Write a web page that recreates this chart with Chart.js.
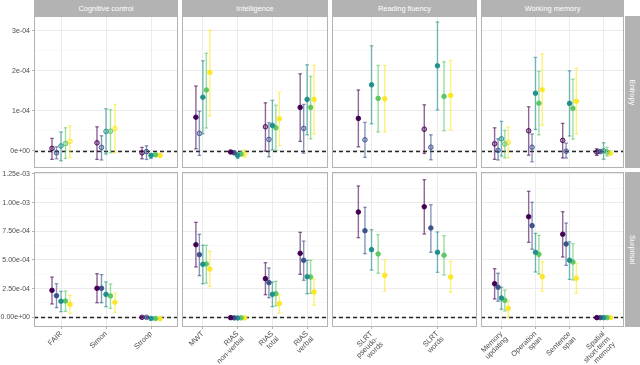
<!DOCTYPE html>
<html><head><meta charset="utf-8">
<script src="https://cdn.jsdelivr.net/npm/chart.js@4.4.0/dist/chart.umd.min.js"></script>
<style>
html,body{margin:0;padding:0;background:#fff;width:640px;height:365px;overflow:hidden;position:relative;}
.box{position:absolute;}
.box canvas{display:block;}
.strip{position:absolute;background:#B3B3B3;color:#fff;font-family:"Liberation Sans",Arial,Helvetica,sans-serif;font-size:7.4px;display:flex;align-items:center;justify-content:center;white-space:nowrap;}
.vstrip span{display:block;transform:rotate(90deg);white-space:nowrap;}
</style></head><body>
<script>
// ---------- data (values in units of 1e-4) ----------
const series = ['Model 1','Model 2','Model 3','Model 4','Model 5'];
const facets = ['Cognitive control','Intelligence','Reading fluency','Working memory'];
const measures = ['Entropy','Surprisal'];

const ccLabels = [['FAIR'],['Simon'],['Stroop']];
const intLabels = [['MWT'],['RIAS','non-verbal'],['RIAS','total'],['RIAS','verbal']];
const rfLabels = [['SLRT','pseudo-','words'],['SLRT','words']];
const wmLabels = [['Memory','updating'],['Operation','span'],['Sentence','span'],['Spatial','short-term','memory']];

// Entropy
const ccEntEst = [[0.06,0.20,-0.05],[-0.05,0.085,-0.02],[0.12,0.485,-0.115],[0.18,0.49,-0.10],[0.235,0.56,-0.115]];
const ccEntLo  = [[-0.215,-0.215,-0.20],[-0.20,-0.23,-0.215],[-0.25,-0.08,-0.19],[-0.19,-0.05,-0.14],[-0.165,-0.05,-0.16]];
const ccEntHi  = [[0.31,0.60,0.085],[0.10,0.375,0.125],[0.47,1.05,-0.07],[0.575,1.025,-0.06],[0.625,1.16,-0.07]];

const intEntEst = [[0.84,-0.03,0.60,1.085],[0.435,-0.05,0.285,0.56],[1.34,-0.115,0.635,1.285],[1.52,-0.08,0.575,1.085],[1.96,-0.08,0.80,1.285]];
const intEntLo  = [[0.05,-0.06,-0.01,0.235],[-0.115,-0.08,-0.15,-0.06],[0.425,-0.19,0.02,0.40],[0.57,-0.12,0.01,0.30],[0.875,-0.16,0.125,0.42]];
const intEntHi  = [[1.62,-0.01,1.20,1.925],[0.99,-0.02,0.70,1.16],[2.25,-0.05,1.26,2.15],[2.44,-0.04,1.14,1.86],[3.02,0.02,1.46,2.135]];

const rfEntEst = [[0.81,0.54],[0.275,0.09],[1.65,2.125],[1.31,1.36],[1.30,1.385]];
const rfEntLo  = [[0.10,-0.065],[-0.165,-0.225],[0.675,1.02],[0.47,0.50],[0.47,0.52]];
const rfEntHi  = [[1.52,1.15],[0.71,0.40],[2.625,3.22],[2.135,2.225],[2.13,2.26]];

const wmEntEst = [[0.175,0.50,0.26,-0.03],[0.01,0.09,-0.01,-0.02],[0.30,1.44,1.185,0.0],[0.17,1.19,1.06,-0.03],[0.21,1.525,1.24,-0.06]];
const wmEntLo  = [[-0.215,-0.11,-0.18,-0.115],[-0.23,-0.275,-0.18,-0.05],[-0.13,0.535,0.37,-0.21],[-0.175,0.40,0.29,-0.13],[-0.175,0.635,0.42,-0.10]];
const wmEntHi  = [[0.575,1.10,0.685,0.05],[0.30,0.42,0.19,0.02],[0.735,2.335,2.0,0.20],[0.51,1.985,1.79,0.09],[0.60,2.42,2.06,-0.01]];

// Surprisal
const ccSurEst = [[2.35,2.53,0.0],[1.88,2.53,0.0],[1.40,2.00,-0.10],[1.42,1.86,-0.10],[1.13,1.31,-0.12]];
const ccSurLo  = [[1.16,1.27,-0.06],[0.84,1.27,-0.08],[0.49,0.93,-0.16],[0.52,0.78,-0.15],[0.35,0.43,-0.17]];
const ccSurHi  = [[3.51,3.80,0.06],[2.93,3.72,0.08],[2.27,3.08,-0.04],[2.29,2.90,-0.05],[1.92,2.12,-0.07]];

const intSurEst = [[6.33,-0.03,3.37,5.58],[5.46,-0.05,3.02,4.97],[4.62,-0.06,2.00,3.54],[4.65,-0.05,2.06,3.51],[4.21,-0.05,1.19,2.21]];
const intSurLo  = [[4.39,-0.08,1.97,3.75],[3.63,-0.10,1.71,3.23],[2.93,-0.11,0.93,2.06],[2.99,-0.10,0.99,2.09],[2.70,-0.10,0.38,1.05]];
const intSurHi  = [[8.28,0.0,4.76,7.41],[7.24,0.0,4.30,6.65],[6.28,-0.01,3.08,4.97],[6.28,0.0,3.14,4.97],[5.76,0.0,1.97,3.34]];

const rfSurEst = [[9.18,9.64],[7.55,7.79],[5.90,5.67],[5.52,5.41],[3.66,3.51]];
const rfSurLo  = [[6.94,7.26],[5.55,5.67],[4.12,3.92],[3.84,3.69],[2.29,2.18]];
const rfSurHi  = [[11.45,12.0],[9.59,9.82],[7.64,7.44],[7.20,7.12],[5.02,4.88]];

const wmSurEst = [[2.93,8.77,7.24,-0.03],[2.62,7.99,6.39,-0.03],[1.68,5.67,4.97,-0.03],[1.48,5.49,4.82,-0.03],[0.78,3.54,3.40,-0.03]];
const wmSurLo  = [[1.60,6.54,5.26,-0.06],[1.40,5.93,4.53,-0.06],[0.70,3.95,3.31,-0.06],[0.55,3.78,3.25,-0.06],[0.05,2.27,2.09,-0.06]];
const wmSurHi  = [[4.24,10.99,9.21,0.0],[3.84,10.03,8.22,0.0],[2.62,7.32,6.59,0.0],[2.38,7.15,6.42,0.0],[1.42,4.85,4.71,0.0]];

// y-axis ticks (units of 1e-4) and their labels
const entropyTicks = [0,1,2,3];
const entropyTickLabels = ['0e+00','1e-04','2e-04','3e-04'];
const surprisalTicks = [0,2.5,5,7.5,10,12.5];
const surprisalTickLabels = ['0.00e+00','2.50e-04','5.00e-04','7.50e-04','1.00e-03','1.25e-03'];
const refLine = 0;

// ---------- styling / layout ----------
const COLORS = ['#440154','#3B528B','#21908C','#5DC863','#FDE725'];
const DODGE = [-0.2,-0.1,0,0.1,0.2];
const FONT = '"Liberation Sans", Arial, Helvetica, sans-serif';
const G = {colL:[34,182,332,481], colR:[178,328,477,624], rowT:[16,172], rowB:[168,327], H:365, stripH:16, rStripX:625, rStripW:15, bottomExtra:6};
const Y_RANGE = [{min:-0.43,max:3.37},{min:-0.846,max:12.67}];

function rgba(hex,a){const n=parseInt(hex.slice(1),16);return 'rgba('+((n>>16)&255)+','+((n>>8)&255)+','+(n&255)+','+a+')';}
function noPad(s){s.paddingTop=0;s.paddingBottom=0;s.paddingLeft=0;s.paddingRight=0;}

const panelPlugin = {
  id:'panelDeco',
  beforeDatasetsDraw(chart){
    const {ctx,chartArea:a,scales:{y}} = chart;
    const yy = Math.round(y.getPixelForValue(refLine))+0.5;
    ctx.save();
    ctx.setLineDash([4,3]);
    ctx.strokeStyle='#262626'; ctx.lineWidth=1.3;
    ctx.beginPath(); ctx.moveTo(a.left,yy); ctx.lineTo(a.right,yy); ctx.stroke();
    ctx.restore();
  },
  afterDraw(chart){
    const {ctx,chartArea:a} = chart;
    ctx.save(); ctx.strokeStyle='#B3B3B3'; ctx.lineWidth=1;
    ctx.strokeRect(a.left+0.5,a.top+0.5,a.right-a.left-1,a.bottom-a.top-1);
    ctx.restore();
  }
};

function buildPanel(col,row,labels,est,lo,hi){
  const left = col===0?0:G.colL[col];
  const extraTop = row===1 ? G.bottomExtra : 0;
  const top = G.rowT[row]-extraTop;
  const width = G.colR[col]-left;
  const height = (row===1?G.H:G.rowB[0]) - top;
  const div = document.createElement('div'); div.className='box';
  div.style.left=left+'px'; div.style.top=top+'px'; div.style.width=width+'px'; div.style.height=height+'px';
  const cv = document.createElement('canvas'); cv.width=width; cv.height=height;
  cv.style.width=width+'px'; cv.style.height=height+'px';
  div.appendChild(cv); document.body.appendChild(div);

  const majors = row===0?entropyTicks:surprisalTicks;
  const majLabels = row===0?entropyTickLabels:surprisalTickLabels;
  const allTicks = [];
  for(let i=0;i<majors.length;i++){ allTicks.push(majors[i]); if(i<majors.length-1) allTicks.push((majors[i]+majors[i+1])/2); }
  const rng = Y_RANGE[row];
  const isMajor = v => majors.some(m=>Math.abs(m-v)<1e-9);

  const n = labels.length;
  const datasets = [];
  for(let m=0;m<series.length;m++){
    const bar=[], pts=[];
    for(let c=0;c<n;c++){
      const x = c+1+DODGE[m];
      bar.push({x:x,y:lo[m][c]},{x:x,y:hi[m][c]},{x:x,y:null});
      pts.push({x:x,y:est[m][c],lo:lo[m][c],hi:hi[m][c]});
    }
    datasets.push({type:'line',label:series[m]+' CI',data:bar,showLine:true,spanGaps:false,
      borderColor:rgba(COLORS[m],0.6),borderWidth:1.4,pointStyle:'line',pointRadius:1.8,pointHoverRadius:1.8,
      pointBorderColor:rgba(COLORS[m],0.6),pointBorderWidth:1.3,pointBackgroundColor:'transparent',order:2});
    datasets.push({type:'scatter',label:series[m],data:pts,showLine:false,pointRadius:2.3,pointBorderWidth:0.9,
      pointBorderColor:COLORS[m],
      pointBackgroundColor:(ctx)=>{const r=ctx.raw; return (r && r.lo<0 && r.hi>0)?rgba(COLORS[m],0.35):COLORS[m];},
      order:1});
  }

  new Chart(cv,{
    type:'scatter',
    data:{datasets},
    plugins:[panelPlugin],
    options:{
      responsive:false, animation:false, devicePixelRatio:1,
      layout:{padding:{top:extraTop,left:0,right:0,bottom:0}, autoPadding:false},
      plugins:{legend:{display:false},tooltip:{enabled:false},title:{display:false}},
      events:[],
      scales:{
        x:{type:'linear',min:0.4,max:n+0.6,bounds:'data',
          afterBuildTicks:(s)=>{s.ticks = labels.map((_,i)=>({value:i+1}));},
          afterFit:(s)=>{s.height = row===1 ? G.H-G.rowB[1] : 0; noPad(s);},
          grid:{color:'#EBEBEB',lineWidth:1,drawTicks:row===1,tickLength:2,tickColor:'#B3B3B3'},
          border:{display:false},
          ticks:{display:row===1,autoSkip:false,maxRotation:45,minRotation:45,padding:1,color:'#4D4D4D',
            font:{family:FONT,size:7.4,lineHeight:1.0},callback:(v,i)=>labels[i]}
        },
        y:{type:'linear',min:rng.min,max:rng.max,bounds:'data',
          afterBuildTicks:(s)=>{s.ticks = allTicks.map(v=>({value:v}));},
          afterFit:(s)=>{s.width = col===0 ? G.colL[0] : 0; noPad(s);},
          grid:{color:(c)=>isMajor(c.tick.value)?'#EBEBEB':'#F5F5F5',
                lineWidth:(c)=>isMajor(c.tick.value)?1:0.7,
                drawTicks:col===0,tickLength:2,
                tickColor:(c)=>isMajor(c.tick.value)?'#B3B3B3':'rgba(0,0,0,0)'},
          border:{display:false},
          ticks:{display:col===0,padding:2,color:'#4D4D4D',font:{family:FONT,size:7},
            callback:(v)=>{const i=majors.findIndex(m=>Math.abs(m-v)<1e-9); return i>=0?majLabels[i]:'';}}
        }
      }
    }
  });
}

function addStrip(text,left,top,w,h,vertical){
  const d=document.createElement('div'); d.className='strip'+(vertical?' vstrip':'');
  d.style.left=left+'px'; d.style.top=top+'px'; d.style.width=w+'px'; d.style.height=h+'px';
  const s=document.createElement('span'); s.textContent=text; d.appendChild(s);
  document.body.appendChild(d);
}

const panels = [
  [ccLabels,  [ccEntEst,ccEntLo,ccEntHi],   [ccSurEst,ccSurLo,ccSurHi]],
  [intLabels, [intEntEst,intEntLo,intEntHi],[intSurEst,intSurLo,intSurHi]],
  [rfLabels,  [rfEntEst,rfEntLo,rfEntHi],   [rfSurEst,rfSurLo,rfSurHi]],
  [wmLabels,  [wmEntEst,wmEntLo,wmEntHi],   [wmSurEst,wmSurLo,wmSurHi]]
];

panels.forEach((p,c)=>{
  buildPanel(c,0,p[0],p[1][0],p[1][1],p[1][2]);
  buildPanel(c,1,p[0],p[2][0],p[2][1],p[2][2]);
  addStrip(facets[c],G.colL[c],0,G.colR[c]-G.colL[c],G.stripH,false);
});
measures.forEach((m,r)=>{
  addStrip(m,G.rStripX,G.rowT[r],G.rStripW,G.rowB[r]-G.rowT[r],true);
});
</script>
</body></html>
